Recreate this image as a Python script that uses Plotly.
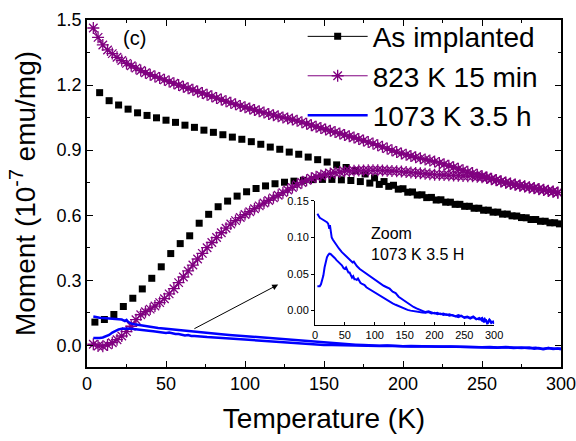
import plotly.graph_objects as go

FONT = "Liberation Sans, Arial, sans-serif"

# ---- As implanted: field-cooled (upper) and zero-field-cooled (lower) branches ----
temp_as_fc = [8, 14, 20, 26, 32, 38, 44, 50, 56, 62, 68, 74, 80, 86, 92, 98, 104, 110,
              116, 122, 128, 134, 140, 146, 152, 158, 164, 170, 176, 182, 188, 194, 200,
              206, 212, 218, 224, 230, 236, 242, 248, 254, 260, 266, 272, 278, 284, 290, 296]
moment_as_fc = [1.165, 1.128, 1.108, 1.089, 1.072, 1.060, 1.049, 1.038, 1.028, 1.015, 1.005,
                0.992, 0.982, 0.971, 0.960, 0.950, 0.939, 0.927, 0.914, 0.904, 0.891, 0.881,
                0.868, 0.856, 0.845, 0.832, 0.820, 0.806, 0.790, 0.772, 0.755, 0.738, 0.722,
                0.707, 0.694, 0.682, 0.671, 0.660, 0.650, 0.641, 0.632, 0.623, 0.614, 0.605,
                0.596, 0.588, 0.580, 0.572, 0.565]

temp_as_zfc = [5, 11, 17, 23, 29, 35, 41, 47, 53, 59, 65, 71, 77, 83, 89, 95, 101, 107, 113,
               119, 125, 131, 137, 143, 149, 155, 161, 167, 173, 179, 185, 191, 197, 203, 209,
               215, 221, 227, 233, 239, 245, 251, 257, 263, 269, 275, 281, 287, 293, 299]
moment_as_zfc = [0.107, 0.119, 0.142, 0.179, 0.217, 0.260, 0.309, 0.362, 0.423, 0.469, 0.505,
                 0.563, 0.604, 0.639, 0.665, 0.688, 0.708, 0.723, 0.735, 0.745, 0.752, 0.757,
                 0.761, 0.764, 0.765, 0.765, 0.763, 0.760, 0.755, 0.748, 0.742, 0.733, 0.720,
                 0.706, 0.693, 0.681, 0.670, 0.660, 0.650, 0.641, 0.632, 0.623, 0.614, 0.605,
                 0.597, 0.589, 0.580, 0.572, 0.565, 0.560]

# ---- 823 K 15 min ----
temp_823 = [4, 7, 10, 13, 16, 19, 22, 25, 28, 31, 34, 37, 40, 43, 46, 49, 52, 55, 58, 61,
            64, 67, 70, 73, 76, 79, 82, 85, 88, 91, 94, 97, 100, 103, 106, 109, 112, 115, 118,
            121, 124, 127, 130, 133, 136, 139, 142, 145, 148, 151, 154, 157, 160, 163, 166,
            169, 172, 175, 178, 181, 184, 187, 190, 193, 196, 199, 202, 205, 208, 211, 214,
            217, 220, 223, 226, 229, 232, 235, 238, 241, 244, 247, 250, 253, 256, 259, 262,
            265, 268, 271, 274, 277, 280, 283, 286, 289, 292, 295, 298]
moment_823_fc = [1.463, 1.420, 1.385, 1.362, 1.345, 1.328, 1.313, 1.300, 1.289, 1.278, 1.267,
                 1.257, 1.248, 1.240, 1.232, 1.224, 1.216, 1.208, 1.200, 1.192, 1.185, 1.178,
                 1.170, 1.163, 1.155, 1.148, 1.140, 1.133, 1.125, 1.118, 1.111, 1.104, 1.098,
                 1.092, 1.085, 1.079, 1.073, 1.067, 1.061, 1.056, 1.051, 1.046, 1.041, 1.035,
                 1.029, 1.022, 1.015, 1.008, 1.002, 0.995, 0.989, 0.983, 0.977, 0.970, 0.964,
                 0.958, 0.951, 0.944, 0.937, 0.930, 0.922, 0.915, 0.907, 0.899, 0.891, 0.885,
                 0.879, 0.873, 0.867, 0.862, 0.857, 0.852, 0.847, 0.841, 0.835, 0.828, 0.821,
                 0.814, 0.807, 0.800, 0.794, 0.787, 0.781, 0.775, 0.768, 0.762, 0.756, 0.751,
                 0.746, 0.741, 0.737, 0.733, 0.729, 0.725, 0.721, 0.717, 0.713, 0.709, 0.705]
moment_823_zfc = [0.005, -0.003, -0.004, 0.002, 0.012, 0.026, 0.043, 0.063, 0.088, 0.118, 0.141,
                  0.155, 0.167, 0.181, 0.197, 0.215, 0.237, 0.261, 0.289, 0.315, 0.343, 0.370,
                  0.398, 0.424, 0.450, 0.474, 0.497, 0.519, 0.540, 0.559, 0.575, 0.589, 0.603,
                  0.616, 0.630, 0.643, 0.656, 0.668, 0.680, 0.692, 0.704, 0.716, 0.728, 0.740,
                  0.751, 0.761, 0.770, 0.777, 0.783, 0.788, 0.792, 0.796, 0.799, 0.802, 0.804,
                  0.805, 0.806, 0.806, 0.807, 0.807, 0.807, 0.806, 0.805, 0.804, 0.803, 0.801,
                  0.799, 0.797, 0.795, 0.793, 0.791, 0.789, 0.787, 0.786, 0.785, 0.784, 0.783,
                  0.782, 0.781, 0.780, 0.779, 0.777, 0.775, 0.771, 0.766, 0.761, 0.755, 0.750,
                  0.745, 0.740, 0.736, 0.732, 0.728, 0.724, 0.720, 0.716, 0.712, 0.708, 0.704]

# ---- 1073 K 3.5 h ----
temp_1073_fc = [4, 6, 8, 10, 12, 14, 16, 18, 20, 22, 24, 25, 26, 28, 30, 33, 36, 40, 45, 50,
                55, 60, 63, 65, 67, 70, 75, 80, 85, 90, 95, 100, 105, 110, 115, 120, 125, 130,
                135, 140, 145, 150, 155, 160, 165, 170, 175, 180, 185, 190, 195, 200, 205, 210,
                215, 220, 225, 230, 235, 240, 245, 250, 255, 260, 265, 270, 275, 280, 283, 286,
                289, 292, 295, 298, 300]
moment_1073_fc = [0.1325, 0.129, 0.127, 0.126, 0.125, 0.124, 0.1235, 0.122, 0.121, 0.119,
                  0.112, 0.117, 0.108, 0.100, 0.097, 0.093, 0.089, 0.085, 0.080, 0.076, 0.072,
                  0.068, 0.066, 0.067, 0.064, 0.061, 0.057, 0.054, 0.051, 0.048, 0.045, 0.042,
                  0.039, 0.037, 0.034, 0.032, 0.030, 0.026, 0.024, 0.019, 0.016, 0.013, 0.011,
                  0.008, 0.005, 0.003, 0.001, -0.001, -0.002, -0.001, -0.003, -0.004, -0.003,
                  -0.005, -0.004, -0.006, -0.005, -0.006, -0.008, -0.006, -0.008, -0.009,
                  -0.008, -0.010, -0.008, -0.011, -0.012, -0.010, -0.016, -0.012, -0.018,
                  -0.013, -0.017, -0.015, -0.018]

temp_1073_zfc = [4, 6, 8, 10, 12, 14, 16, 18, 20, 22, 24, 26, 28, 30, 33, 36, 39, 42, 45, 48,
                 50, 52, 54, 56, 58, 60, 62, 64, 66, 68, 70, 72, 74, 76, 78, 80, 83, 86, 90,
                 95, 100, 105, 110, 115, 120, 125, 130, 135, 140, 145, 150, 155, 160, 165, 170,
                 175, 180, 185, 190, 195, 200, 205, 210, 215, 220, 225, 230, 235, 240, 245, 250,
                 255, 260, 265, 270, 275, 280, 284, 288, 292, 296, 300]
moment_1073_zfc = [0.0335, 0.033, 0.0335, 0.036, 0.042, 0.048, 0.059, 0.068, 0.073, 0.076,
                   0.078, 0.0775, 0.076, 0.075, 0.072, 0.069, 0.067, 0.065, 0.062, 0.058, 0.057,
                   0.059, 0.055, 0.052, 0.052, 0.048, 0.045, 0.047, 0.043, 0.043, 0.042, 0.044,
                   0.040, 0.038, 0.037, 0.036, 0.035, 0.032, 0.030, 0.027, 0.024, 0.022, 0.020,
                   0.017, 0.014, 0.012, 0.010, 0.008, 0.006, 0.004, 0.002, 0.001, 0.000, -0.001,
                   -0.0015, -0.002, -0.0025, -0.003, -0.002, -0.004, -0.003, -0.005, -0.004,
                   -0.006, -0.005, -0.007, -0.006, -0.007, -0.009, -0.007, -0.010, -0.009,
                   -0.011, -0.009, -0.012, -0.010, -0.014, -0.011, -0.017, -0.012, -0.016, -0.015]

y_ticks = [0.0, 0.3, 0.6, 0.9, 1.2, 1.5]
x_ticks = [0, 50, 100, 150, 200, 250, 300]
inset_y_ticks = [0.00, 0.05, 0.10, 0.15]

BLACK = "#000000"
PURPLE = "#800080"
BLUE = "#0000FF"

square_marker = dict(symbol="square", size=7, color=BLACK)
star_marker = dict(symbol="asterisk-open", size=10, color=PURPLE,
                   line=dict(color=PURPLE, width=1.3))

fig = go.Figure()

# data traces (main panel)
for t, m in [(temp_as_fc, moment_as_fc), (temp_as_zfc, moment_as_zfc)]:
    fig.add_trace(go.Scatter(x=t, y=m, mode="markers", showlegend=False, marker=square_marker))
for m in [moment_823_fc, moment_823_zfc]:
    fig.add_trace(go.Scatter(x=temp_823, y=m, mode="lines+markers", showlegend=False,
                             line=dict(color=PURPLE, width=1.2), marker=star_marker))
for t, m in [(temp_1073_fc, moment_1073_fc), (temp_1073_zfc, moment_1073_zfc)]:
    fig.add_trace(go.Scatter(x=t, y=m, mode="lines", showlegend=False,
                             line=dict(color=BLUE, width=2.5)))

# legend entries
fig.add_trace(go.Scatter(x=[None], y=[None], mode="lines+markers", name="As implanted",
                         line=dict(color=BLACK, width=1), marker=square_marker))
fig.add_trace(go.Scatter(x=[None], y=[None], mode="lines+markers", name="823 K 15 min",
                         line=dict(color=PURPLE, width=1), marker=star_marker))
fig.add_trace(go.Scatter(x=[None], y=[None], mode="lines", name="1073 K 3.5 h",
                         line=dict(color=BLUE, width=2.5)))

# inset (zoom of the 1073 K sample)
for t, m in [(temp_1073_fc, moment_1073_fc), (temp_1073_zfc, moment_1073_zfc)]:
    fig.add_trace(go.Scatter(x=t, y=m, mode="lines", showlegend=False,
                             xaxis="x2", yaxis="y2",
                             line=dict(color=BLUE, width=2)))

axis_common = dict(showline=True, linecolor="black", linewidth=1.6, mirror="allticks",
                   ticks="inside", ticklen=6, tickwidth=1.2, tickcolor="black",
                   showgrid=False, zeroline=False, automargin=False,
                   ticklabeloverflow="allow",
                   tickfont=dict(family=FONT, size=18, color="black"))
inset_common = dict(showline=True, linecolor="black", linewidth=1, tickcolor="black",
                    showgrid=False, zeroline=False, automargin=False, ticklen=3,
                    ticklabeloverflow="allow",
                    tickfont=dict(family=FONT, size=11, color="black"))

fig.update_layout(
    width=576, height=441,
    margin=dict(l=87, r=15, t=18, b=74),
    paper_bgcolor="white", plot_bgcolor="rgba(0,0,0,0)",
    font=dict(family=FONT, color="black"),
    xaxis=dict(range=[0, 300], tickvals=x_ticks, domain=[0, 1],
               minor=dict(ticks="inside", ticklen=3, dtick=25, tickcolor="black"),
               title=dict(text="Temperature (K)", font=dict(family=FONT, size=28),
                          standoff=15),
               **axis_common),
    yaxis=dict(range=[-0.1, 1.5], tickvals=y_ticks, tickformat=".1f", domain=[0, 1],
               minor=dict(ticks="inside", ticklen=3, dtick=0.15, tickcolor="black"),
               title=dict(text="Moment (10<sup>-7</sup> emu/mg)",
                          font=dict(family=FONT, size=28), standoff=13),
               **axis_common),
    xaxis2=dict(domain=[0.481, 0.859], anchor="y2", range=[0, 300], tickvals=x_ticks,
                ticks="inside", **inset_common),
    yaxis2=dict(domain=[0.1203, 0.4785], anchor="x2", range=[-0.02, 0.15],
                tickvals=inset_y_ticks, tickformat=".2f", ticks="outside", **inset_common),
    legend=dict(x=0.455, y=1.024, xanchor="left", yanchor="top",
                bgcolor="rgba(0,0,0,0)", itemwidth=60, tracegroupgap=0,
                font=dict(family=FONT, size=28, color="black")),
    annotations=[
        dict(text="(c)", x=0.101, y=0.948, xref="paper", yref="paper", showarrow=False,
             xanchor="center", yanchor="middle",
             font=dict(family=FONT, size=20, color="black")),
        dict(text="Zoom<br>1073 K 3.5 H", x=0.594, y=0.414, xref="paper", yref="paper",
             xanchor="left", yanchor="top", align="left", showarrow=False,
             font=dict(family=FONT, size=16, color="black")),
        dict(x=121, y=0.28, ax=67, ay=0.073, xref="x", yref="y", axref="x", ayref="y",
             text="", showarrow=True, arrowhead=2, arrowsize=1.2, arrowwidth=1,
             arrowcolor="black"),
    ],
)

fig.write_html("out.html")
